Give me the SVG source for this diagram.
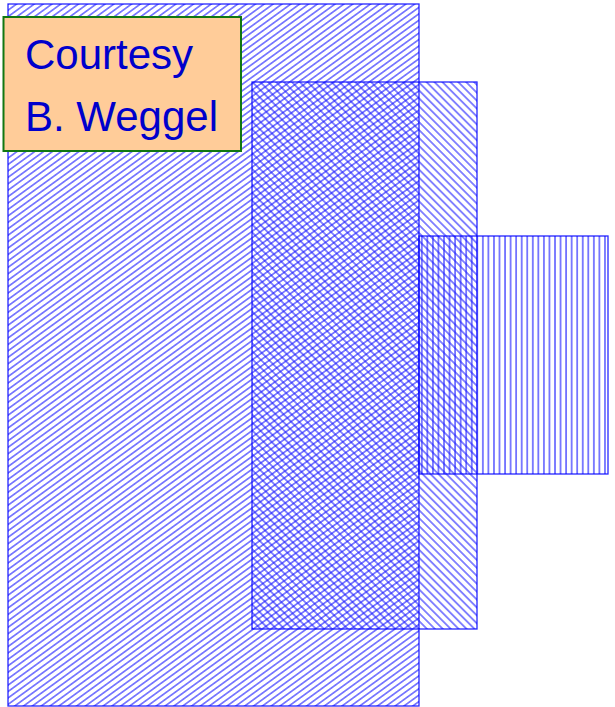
<svg xmlns="http://www.w3.org/2000/svg" width="615" height="707" viewBox="0 0 615 707">
<style>
.hl{stroke:#1a1aff;stroke-width:1.15;stroke-opacity:0.9}
.vl{stroke:#1a1aff;stroke-width:1.3;stroke-opacity:0.85}
.edge{fill:none;stroke:#0000ff;stroke-width:1.3;stroke-opacity:0.85}
.lbl{font-family:"Liberation Sans",Arial,sans-serif;font-size:42px;fill:#0000cc}
</style>
<defs>
<pattern id="p1" patternUnits="userSpaceOnUse" width="10" height="5.2" patternTransform="rotate(-36)">
<line class="hl" x1="0" y1="2.6" x2="10" y2="2.6"/>
</pattern>
<pattern id="p2" patternUnits="userSpaceOnUse" width="10" height="5.6" patternTransform="rotate(45)">
<line class="hl" x1="0" y1="2.8" x2="10" y2="2.8"/>
</pattern>
<pattern id="p3" patternUnits="userSpaceOnUse" x="419" width="5.55" height="10">
<line class="vl" x1="2.8" y1="0" x2="2.8" y2="10"/>
</pattern>
</defs>
<g id="region1">
<rect x="8" y="4" width="411" height="702" fill="url(#p1)"/>
<rect class="edge" x="8" y="4" width="411" height="702"/>
</g>
<g id="region2">
<rect x="252" y="82" width="225" height="547" fill="url(#p2)"/>
<rect class="edge" x="252" y="82" width="225" height="547"/>
</g>
<g id="region3">
<rect x="419" y="236" width="189" height="238" fill="url(#p3)"/>
<rect class="edge" x="419" y="236" width="189" height="238"/>
</g>
<g id="label">
<rect x="3.5" y="17" width="237.5" height="134" fill="#ffcc99" stroke="#117711" stroke-width="2"/>
<text class="lbl" x="25" y="69">Courtesy</text>
<text class="lbl" x="25" y="131">B. Weggel</text>
</g>
<g id="connectors"></g>
</svg>
